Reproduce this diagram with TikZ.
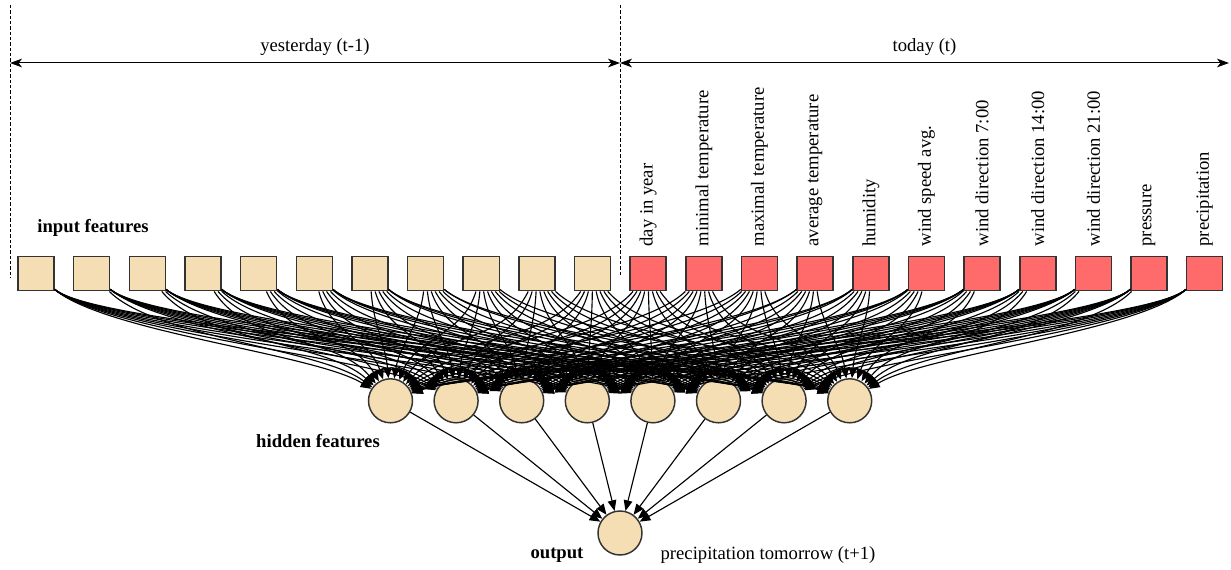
\documentclass[tikz,border=0pt]{standalone}
\usepackage{fontspec}
\setmainfont{Liberation Serif}
\usepackage{tikz}
\usetikzlibrary{arrows.meta}
\definecolor{featbeige}{HTML}{F5DEB3}
\definecolor{featred}{HTML}{FF6A6A}
\tikzset{
  >={Stealth[length=9pt,width=6.5pt,inset=2.5pt]},
  every node/.style={font=\fontsize{14}{16}\selectfont},
  feature/.style={rectangle, draw=black!80, line width=1.1pt, minimum width=27pt, minimum height=25.5pt, inner sep=0pt},
  yesterday/.style={feature, fill=featbeige},
  today/.style={feature, fill=featred},
  neuron/.style={circle, draw=black!80, line width=1.1pt, fill=featbeige, minimum size=33pt, inner sep=0pt},
  link/.style={-{Triangle[length=8pt,width=6.5pt]}, line width=0.85pt},
  heading/.style={font=\fontsize{14}{16}\selectfont\bfseries},
  divider/.style={line width=0.7pt, dash pattern=on 2.5pt off 1.5pt},
}

\begin{document}
\begin{tikzpicture}[x=0.75pt, y=-0.75pt]
        \useasboundingbox (0,0) rectangle (1231,570);

        % time line
        \coordinate (tl) at (10,63);
        \coordinate (tm) at (620,63);
        \coordinate (tr) at (1229,63);
        \draw[divider] (10,5) -- (10,278);
        \draw[divider] (620,5) -- (620,277);
        \draw[<->, line width=0.75pt] (tl) -- node[above=2pt] {yesterday (t-1)} (tm);
        \draw[<->, line width=0.75pt] (tm) -- node[above=2pt] {today (t)} (tr);

        % input features
        \node[yesterday] (i1) at (36,273.7) {};
        \foreach \k [count=\p from 1] in {2,...,22} {
          \ifnum\k<12
            \node[yesterday, right of=i\p, node distance=41.74pt] (i\k) {};
          \else
            \node[today, right of=i\p, node distance=41.74pt] (i\k) {};
          \fi
        }
        \node[heading] (inlab) at (93,228) {input features};

        % names of today's features
        \foreach \t [count=\k from 12] in {day in year, minimal temperature,
            maximal temperature, average temperature, humidity, wind speed avg.,
            wind direction 7:00, wind direction 14:00, wind direction 21:00,
            pressure, precipitation}
          \node[rotate=90, anchor=west] (n\k) at ([yshift=3.6pt]i\k.north) {\t};

        % hidden features
        \node[neuron] (h1) at (390.5,400.8) {};
        \foreach \k [count=\p from 1] in {2,...,8}
          \node[neuron, right of=h\p, node distance=49.2pt] (h\k) {};
        \node[heading] (hidlab) at (318,441) {hidden features};

        % output
        \node[neuron] (out) at (620,533) {};
        \node[heading] (outlab) at (557,555) {output};
        \node (outname) at (768,555) {precipitation tomorrow (t+1)};

        % connections
        \foreach \a in {1,...,22}
          \foreach \b in {1,...,8} {
            \pgfmathsetmacro\dx{(\a-1)*55.65+36-((\b-1)*65.6+390.5)}
            \pgfmathsetmacro\win{max(20,min(160,atan2(220,\dx)))}
            \pgfmathsetmacro\wout{max(-140,min(-40,atan2(-300,-\dx)))}
            \pgfmathsetmacro\loose{min(1,190/veclen(\dx,110))}
            \draw[link] (i\a) to[out=\wout, in=\win, looseness=\loose] (h\b);
          }
        \foreach \b in {1,...,8}
          \draw[link] (h\b) -- (out);

      \end{tikzpicture}
\end{document}
